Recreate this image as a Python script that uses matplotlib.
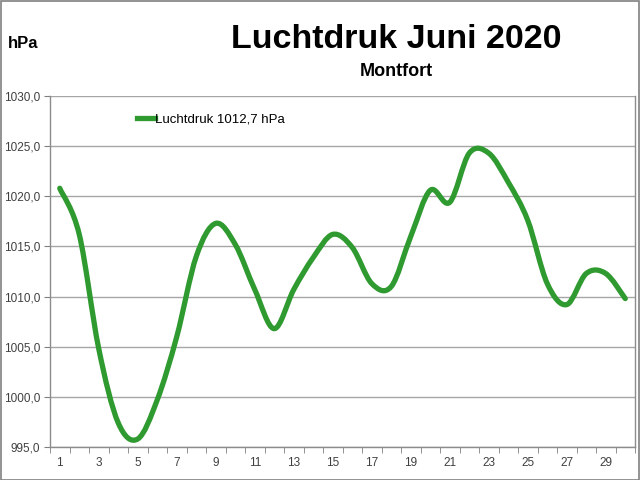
import numpy as np
import matplotlib
matplotlib.use("Agg")
import matplotlib.pyplot as plt
from matplotlib.path import Path
from matplotlib.patches import PathPatch, Rectangle
from matplotlib.lines import Line2D
from matplotlib import font_manager

days = list(range(1, 31))
druk = [1020.8, 1016.2, 1004.8, 997.4, 995.8, 999.7, 1006.0, 1014.0, 1017.3, 1015.2,
        1010.7, 1006.8, 1010.7, 1013.9, 1016.2, 1014.9, 1011.3, 1011.0, 1016.0, 1020.6,
        1019.4, 1024.3, 1024.3, 1021.4, 1017.6, 1011.3, 1009.2, 1012.3, 1012.3, 1009.8]
legend_label = "Luchtdruk 1012,7 hPa"
yticks = [995, 1000, 1005, 1010, 1015, 1020, 1025, 1030]
xlabels = list(range(1, 31, 2))

names = {f.name for f in font_manager.fontManager.ttflist}
narrow = "Liberation Sans Narrow" if "Liberation Sans Narrow" in names else "Liberation Sans"
plt.rcParams['font.family'] = ['Liberation Sans', 'DejaVu Sans']

green = "#2f9a2f"
grid_c = "#a6a6a6"
txt_c = "#404040"

fig = plt.figure(figsize=(6.4, 4.8), dpi=100)
ax = fig.add_axes([50/640, 1-447/480, 585/640, 351/480])

# smooth line like Excel (Catmull-Rom as cubic Bezier)
pts = np.column_stack([days, druk]).astype(float)
ext = np.vstack([pts[0], pts, pts[-1]])
verts = [tuple(pts[0])]
codes = [Path.MOVETO]
for i in range(len(pts) - 1):
    p0, p1, p2, p3 = ext[i], ext[i+1], ext[i+2], ext[i+3]
    c1 = p1 + (p2 - p0) / 6
    c2 = p2 - (p3 - p1) / 6
    verts += [tuple(c1), tuple(c2), tuple(p2)]
    codes += [Path.CURVE4] * 3
ax.add_patch(PathPatch(Path(verts, codes), fill=False, edgecolor=green,
                       lw=3.8, capstyle='round', joinstyle='round', zorder=3))

ax.set_xlim(0.5, 30.5)
ax.set_ylim(995, 1030)
ax.set_yticks(yticks)
ax.set_yticklabels([f"{v:.1f}".replace(".", ",") for v in yticks])
ax.set_xticks(xlabels)
ax.set_xticklabels([str(d) for d in xlabels])
ax.set_xticks(np.arange(0.5, 31, 1), minor=True)
ax.tick_params(axis='x', which='major', length=0, pad=7, labelsize=8.5, labelcolor=txt_c)
ax.tick_params(axis='x', which='minor', length=4, color='#808080', direction='out')
ax.tick_params(axis='y', length=4, color='#808080', labelsize=8.5, labelcolor=txt_c, pad=3)
ax.yaxis.grid(True, color=grid_c, lw=1)
ax.set_axisbelow(True)
for s in ['left', 'bottom', 'right']:
    ax.spines[s].set_color('#8c8c8c')
    ax.spines[s].set_linewidth(1)
ax.spines['top'].set_visible(False)

handle = Line2D([], [], color=green, lw=3.8)
leg = ax.legend([handle], [legend_label], loc='upper left', bbox_to_anchor=(0.128, 0.985),
                frameon=False, handlelength=1.35, handletextpad=0.05,
                prop={'family': narrow, 'size': 9.5})

fig.text(396/640, 1-39/480, "Luchtdruk Juni 2020", ha='center', va='center',
         fontsize=24.5, fontweight='bold', family=narrow)
fig.text(396/640, 1-72/480, "Montfort", ha='center', va='center',
         fontsize=13, fontweight='bold', family=narrow)
fig.text(8/640, 1-43/480, "hPa", ha='left', va='center',
         fontsize=12, fontweight='bold', family=narrow)

fig.patches.append(Rectangle((0.001, 0.001), 0.997, 0.997, transform=fig.transFigure,
                             fill=False, edgecolor='#808080', lw=1.2))

fig.savefig("out.png", dpi=100)
